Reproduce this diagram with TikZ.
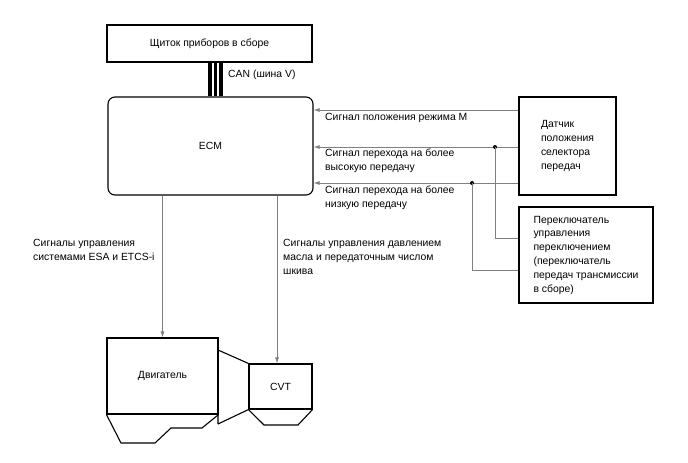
\documentclass[tikz,border=0pt]{standalone}
\usepackage{fontspec}
\setmainfont{Liberation Sans}
\usetikzlibrary{arrows.meta,positioning}
\tikzset{
  box/.style={draw=black, line width=1.1pt, inner sep=0pt, align=left},
  ecmbox/.style={box, rounded corners=7pt},
  part/.style={draw=black, line width=1.1pt, inner sep=0pt},
  outline/.style={black, line width=1.1pt},
  wire/.style={line width=0.8pt, black!50},
  sig/.style={-{Latex[length=6pt,width=4pt]}, line width=0.8pt, black!50},
  canline/.style={line width=3.6pt, black},
  joint/.style={circle, fill=black, inner sep=0pt, minimum size=4pt},
  lbl/.style={inner sep=0pt, align=left, anchor=north west}
}
\begin{document}
\begin{tikzpicture}[x=1pt, y=-1pt, font=\fontsize{10.4}{13.8}\selectfont]
  \useasboundingbox (0,0) rectangle (688,463);
  \node[box, minimum width=205pt, minimum height=37pt] (dash) at (209.5,43.5) {Щиток приборов в сборе};
  \node[ecmbox, minimum width=205pt, minimum height=98pt] (ecm) at (210.5,146) {ECM};
  \node[box, minimum width=97pt, minimum height=98pt] (sensor) at (567.5,146) {Датчик\\положения\\селектора\\передач};
  \node[box, minimum width=134pt, minimum height=96pt] (switch) at (586,255) {Переключатель\\управления\\переключением\\(переключатель\\передач трансмиссии\\в сборе)};
  \node[part, minimum width=111pt, minimum height=76pt] (engine) at (162.5,376) {Двигатель};
  \node[part, minimum width=63pt, minimum height=45pt] (cvt) at (280.5,386.5) {CVT};
  % CAN bus
  \coordinate (bus) at (215.5,0);
  \foreach \dx in {-5.5,0,5.5}
    \draw[canline] ([xshift=\dx pt]bus |- dash.south) -- ([xshift=\dx pt]bus |- ecm.north);
  \node[lbl, anchor=west] (lcan) at (228,75) {CAN (шина V)};
  % signals from the selector
  \coordinate (mode) at (0,110);
  \coordinate (up) at (0,147);
  \coordinate (down) at (0,183);
  \coordinate (upb) at (0,238);
  \coordinate (downb) at (0,270);
  \draw[sig] (sensor.west |- mode) -- (ecm.east |- mode);
  \draw[sig] (sensor.west |- up) -- (ecm.east |- up);
  \draw[sig] (sensor.west |- down) -- (ecm.east |- down);
  \node[joint] (jup) at (495,147) {};
  \node[joint] (jdown) at (472,183) {};
  \draw[wire] (jup.center) |- (switch.west |- upb);
  \draw[wire] (jdown.center) |- (switch.west |- downb);
  \node[lbl] (lmode) at (325,113) {Сигнал положения режима M};
  \node[lbl] (lup) at (325,148.5) {Сигнал перехода на более\\высокую передачу};
  \node[lbl] (ldown) at (325,185.5) {Сигнал перехода на более\\низкую передачу};
  % outputs
  \draw[sig] (ecm.south -| engine.north) -- (engine.north);
  \draw[sig] ([xshift=-3.5pt]cvt.north |- ecm.south) -- ([xshift=-3.5pt]cvt.north);
  \node[lbl] (lesa) at (33,239.5) {Сигналы управления\\системами ESA и ETCS-i};
  \node[lbl] (lpress) at (283,239.5) {Сигналы управления давлением\\масла и передаточным числом\\шкива};
  % engine and CVT housings
  \coordinate (bellt) at (218,350);
  \coordinate (bellb) at (218,424);
  \draw[outline] (engine.south west) -- (121,443) -- (155,443) -- (171,428) -- (202,428) -- (engine.south east);
  \draw[outline] (cvt.south west) -- (264,425) -- (298,425) -- (cvt.south east);
  \draw[outline] (bellt) -- (cvt.north west) (bellb) -- (cvt.south west) (bellt) -- (bellb);
\end{tikzpicture}
\end{document}
